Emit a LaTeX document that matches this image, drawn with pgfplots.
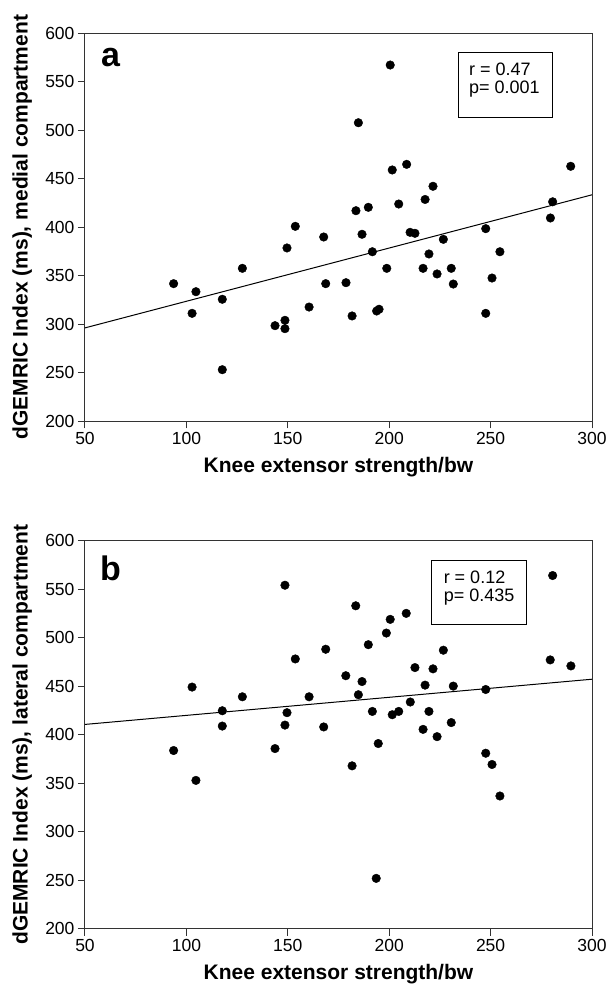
\documentclass[border=0pt]{standalone}
\usepackage{fontspec}
\setmainfont{Liberation Sans}
\usepackage{pgfplots}
\usepackage{pgfplotstable}
\pgfplotsset{compat=1.18}

% strength/bw vs dGEMRIC index, medial (a) and lateral (b)
\pgfplotstableread{
x y
93.7 341.9
102.8 311.3
104.7 333.6
117.7 325.8
117.7 253.2
127.6 357.7
143.7 298.6
148.6 304.1
148.6 295.5
149.6 378.7
153.7 401.0
160.5 317.8
167.7 390.0
168.7 341.9
178.7 342.9
181.7 308.6
183.6 417.1
184.8 507.8
186.6 392.8
189.7 420.6
191.7 374.8
193.8 313.7
195.0 315.5
198.8 357.7
200.5 567.3
201.5 459.1
204.7 424.0
208.6 464.9
210.3 394.8
212.7 393.8
216.7 357.7
217.7 428.7
219.6 372.5
221.6 442.3
223.6 351.9
226.7 387.6
230.6 357.7
231.6 341.5
247.6 398.6
247.6 311.3
250.7 347.7
254.6 374.8
279.5 409.6
280.6 426.3
289.5 462.9
}\medial

\pgfplotstableread{
x y
93.7 383.7
102.8 449.1
104.7 352.9
117.7 424.7
117.7 408.9
127.6 439.1
143.7 385.7
148.6 554.1
148.6 409.9
149.6 422.7
153.7 478.1
160.5 439.1
167.7 408.0
168.7 488.1
178.6 460.8
181.7 367.9
183.5 532.9
184.8 441.2
186.6 454.8
189.7 492.8
191.7 424.0
193.6 251.9
194.6 390.9
198.6 504.8
200.5 518.9
201.5 420.6
204.7 424.0
208.4 525.1
210.4 433.7
212.7 469.2
216.7 405.5
217.7 451.1
219.6 424.0
221.6 467.9
223.6 398.0
226.7 487.1
230.6 412.5
231.6 450.1
247.6 446.6
247.6 380.9
250.7 369.3
254.6 336.8
279.4 477.1
280.6 564.1
289.6 470.9
}\lateral

\pgfplotsset{
  panel/.style={
    scale only axis, width=507pt, height=388pt,
    xmin=50, xmax=300, ymin=200, ymax=600,
    xtick={50,100,...,300}, ytick={200,250,...,600},
    tick align=outside, tick pos=left,
    major tick length=7pt,
    axis line style={draw=black!80, line width=1pt},
    every tick/.style={draw=black!80, line width=1pt},
    /pgf/number format/assume math mode=true,
    tick label style={font=\fontsize{17.5}{20}\selectfont},
    every axis x label/.style={at={(axis description cs:0.5,0)}, anchor=base, yshift=-51pt,
      font=\fontsize{21}{24}\selectfont\bfseries},
    every axis y label/.style={at={(axis description cs:-0.1134,0.5)}, rotate=90, anchor=base,
      font=\fontsize{21}{24}\selectfont\bfseries},
    xlabel={Knee extensor strength/bw},
  },
  dots/.style={only marks, mark=*, mark size=4.3pt, black},
  fit/.style={black, line width=1pt, no marks},
}
\tikzset{
  stat/.style={anchor=north west, inner sep=0pt, align=left, font=\fontsize{18}{18.5}\selectfont},
  tag/.style={anchor=base west, inner sep=0pt, font=\fontsize{34}{36}\selectfont\bfseries},
}

\begin{document}
\begin{tikzpicture}
\useasboundingbox (0pt,0pt) rectangle (608pt,989pt);

\begin{axis}[panel, at={(85pt,567.7pt)}, anchor=south west,
  ylabel={dGEMRIC Index (ms), medial compartment}]
\addplot[fit] coordinates {(50,296.3) (300,433.5)};
\addplot[dots] table[x=x,y=y] {\medial};
\draw[line width=1pt] (axis cs:234.3,580) rectangle (axis cs:280.5,513.7);
\node[stat] at (axis cs:239.3,570.1) {r = 0.47\\p= 0.001};
\node[tag] at (axis cs:57.9,565.6) {a};
\end{axis}

\begin{axis}[panel, at={(85pt,60.3pt)}, anchor=south west,
  ylabel={dGEMRIC Index (ms), lateral compartment}]
\addplot[fit] coordinates {(50,410.6) (300,457.2)};
\addplot[dots] table[x=x,y=y] {\lateral};
\draw[line width=1pt] (axis cs:221.1,579.8) rectangle (axis cs:267.6,514.1);
\node[stat] at (axis cs:226.8,569.2) {r = 0.12\\p= 0.435};
\node[tag] at (axis cs:57.4,558.9) {b};
\end{axis}
\end{tikzpicture}
\end{document}
